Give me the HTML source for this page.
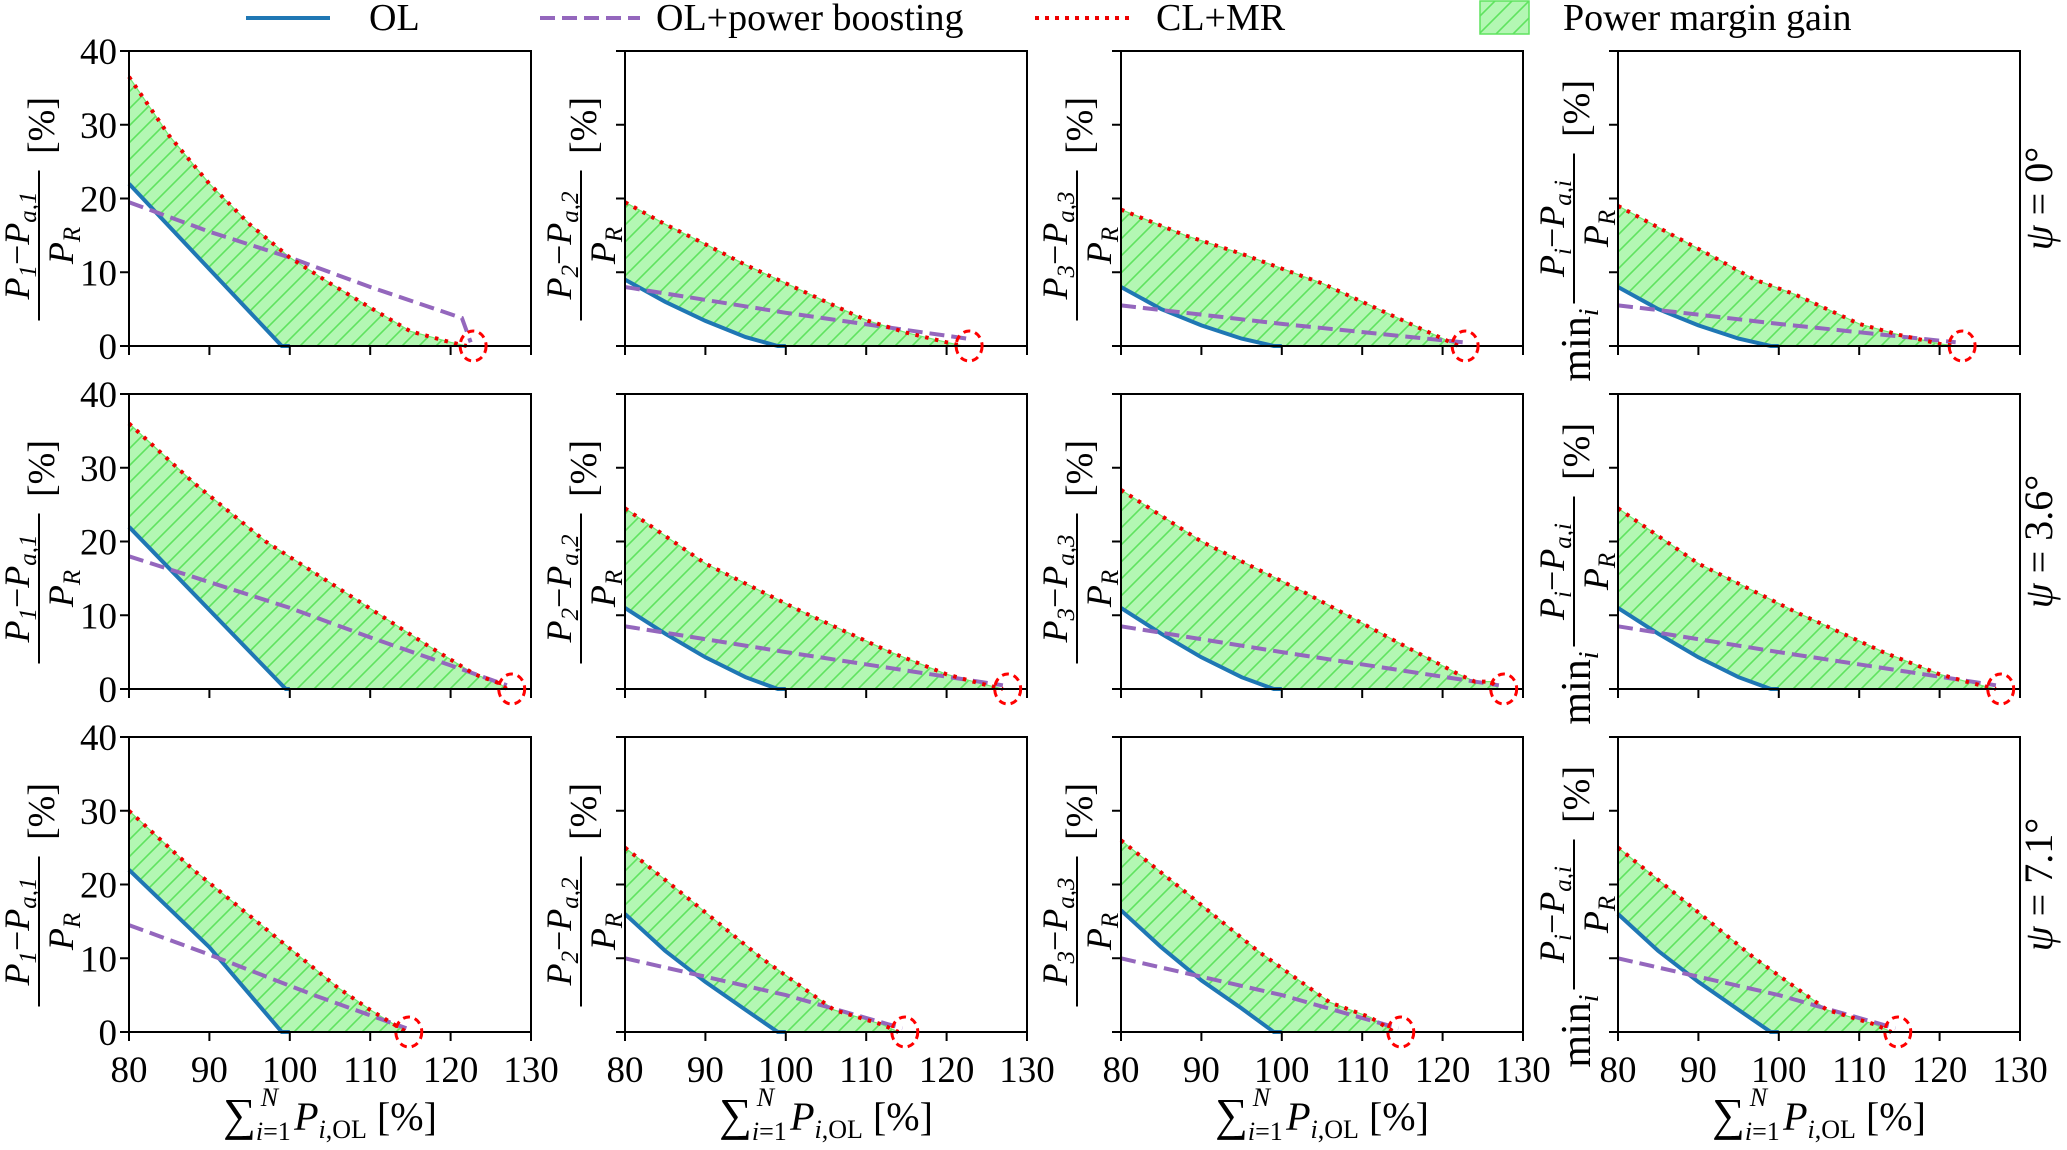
<!DOCTYPE html>
<html><head><meta charset="utf-8"><style>
html,body{margin:0;padding:0;background:#fff;}
svg{display:block;font-family:"Liberation Serif",serif;}
</style></head><body>
<svg id="chart" width="2067" height="1150" viewBox="0 0 2067 1150" xmlns="http://www.w3.org/2000/svg">
<defs>
<pattern id="hatch" patternUnits="userSpaceOnUse" width="17" height="17">
<rect width="17" height="17" fill="#b3f7b3"/>
<path d="M-4,4 L4,-4 M0,17 L17,0 M13,21 L21,13" stroke="#5fe35f" stroke-width="1.6"/>
</pattern>
</defs>
<g id="legend">
<g><line x1="246" y1="18" x2="330" y2="18" stroke="#1f77b4" stroke-width="4"/><text x="369" y="30" font-size="38">OL</text></g>
<g><line x1="540" y1="18" x2="640" y2="18" stroke="#9467bd" stroke-width="4" stroke-dasharray="15,7"/><text x="656" y="30" font-size="38">OL+power boosting</text></g>
<g><line x1="1035" y1="18" x2="1133" y2="18" stroke="#e00" stroke-width="4" stroke-dasharray="4,6"/><text x="1156" y="30" font-size="38">CL+MR</text></g>
<g><rect x="1480" y="1" width="49" height="33" fill="url(#hatch)" stroke="#5fe35f" stroke-width="1.5"/><text x="1563" y="30" font-size="38">Power margin gain</text></g>
</g>
<g id="plots"></g>
</svg>
<script>
// axis domains and ticks
const xTicks = [80, 90, 100, 110, 120, 130];
const yTicks = [0, 10, 20, 30, 40];
const rowAngles = ["0°", "3.6°", "7.1°"];
const circleX = [122.8, 127.6, 114.8];
const colLabels = ["1", "2", "3", "i"];

// Row 1 (psi = 0)
const ol_r1c1 = [[80,22],[99,0],[100,0]];
const pb_r1c1 = [[80,19.5],[90,15.5],[100,12],[110,8],[121.4,3.8],[122.5,0.5]];
const cl_r1c1 = [[80,36.5],[85,28.5],[90,22],[95,16.5],[100,12],[105,8.5],[110,5.2],[115,2],[120,0.5],[122,0]];
const ol_r1c2 = [[80,9],[85,6],[90,3.4],[95,1.2],[99,0],[100,0]];
const pb_r1c2 = [[80,8],[100,4.5],[122.5,1]];
const cl_r1c2 = [[80,19.5],[85,16.5],[90,13.8],[95,11],[100,8.5],[105,6],[110,3.5],[115,1.8],[120,0.5],[122,0]];
const ol_r1c3 = [[80,8],[85,5],[90,2.8],[95,1],[99,0],[100,0]];
const pb_r1c3 = [[80,5.5],[100,3],[122.5,0.5]];
const cl_r1c3 = [[80,18.5],[88,15],[95,12.5],[100,10.5],[105,8.5],[110,6],[115,3.5],[120,1],[122,0]];
const ol_r1c4 = [[80,8],[85,5],[90,2.8],[95,1],[99,0],[100,0]];
const pb_r1c4 = [[80,5.5],[100,3],[122,0.5]];
const cl_r1c4 = [[80,19],[86,15.5],[92,12],[97,9],[102,7],[106,5],[110,3],[115,1.5],[120,0.3],[122,0]];
// Row 2 (psi = 3.6)
const ol_r2c1 = [[80,22],[99.5,0],[100,0]];
const pb_r2c1 = [[80,18],[90,14.5],[100,11],[110,7],[120,3.2],[127,0.5]];
const cl_r2c1 = [[80,36],[88,28],[97,20],[107,13],[117,6],[123,2],[126,0.8],[127,0]];
const ol_r2c2 = [[80,11],[85,7.5],[90,4.3],[95,1.6],[99,0],[100,0]];
const pb_r2c2 = [[80,8.5],[100,5],[127,0.5]];
const cl_r2c2 = [[80,24.5],[90,17],[102,10.5],[113,5],[120,2],[124,0.8],[127,0]];
const ol_r2c3 = [[80,11],[85,7.5],[90,4.3],[95,1.6],[99,0],[100,0]];
const pb_r2c3 = [[80,8.5],[100,5],[127,0.5]];
const cl_r2c3 = [[80,27],[90,20],[103,13],[115,6],[122,2],[124,1],[126,1],[127,0]];
const ol_r2c4 = [[80,11],[85,7.5],[90,4.3],[95,1.6],[99,0],[100,0]];
const pb_r2c4 = [[80,8.5],[100,5],[127,0.5]];
const cl_r2c4 = [[80,24.5],[90,17],[102,10.5],[113,5],[120,2],[124,0.8],[127,0]];
// Row 3 (psi = 7.1)
const ol_r3c1 = [[80,22],[90,11.5],[99,0],[100,0]];
const pb_r3c1 = [[80,14.5],[90,10.5],[103,5],[114.5,0.5]];
const cl_r3c1 = [[80,30],[88,22],[97,14],[106,6],[110,3],[113,1],[114.5,0]];
const ol_r3c2 = [[80,16],[85,11],[90,6.8],[95,3],[99,0],[100,0]];
const pb_r3c2 = [[80,10],[100,5],[114.5,0.5]];
const cl_r3c2 = [[80,25],[88,18],[97,10],[106,3],[112,1],[114,0]];
const ol_r3c3 = [[80,16.5],[85,11.5],[90,7],[95,3.2],[99,0],[100,0]];
const pb_r3c3 = [[80,10],[100,5],[114.5,0.5]];
const cl_r3c3 = [[80,26],[88,19],[97,11],[106,4],[111,2],[114,0]];
const ol_r3c4 = [[80,16],[85,11],[90,6.8],[95,3],[99,0],[100,0]];
const pb_r3c4 = [[80,10],[100,5],[114.5,0.5]];
const cl_r3c4 = [[80,25],[88,18],[97,10],[106,3],[112,1],[114,0]];

const OL = [[ol_r1c1,ol_r1c2,ol_r1c3,ol_r1c4],[ol_r2c1,ol_r2c2,ol_r2c3,ol_r2c4],[ol_r3c1,ol_r3c2,ol_r3c3,ol_r3c4]];
const PB = [[pb_r1c1,pb_r1c2,pb_r1c3,pb_r1c4],[pb_r2c1,pb_r2c2,pb_r2c3,pb_r2c4],[pb_r3c1,pb_r3c2,pb_r3c3,pb_r3c4]];
const CL = [[cl_r1c1,cl_r1c2,cl_r1c3,cl_r1c4],[cl_r2c1,cl_r2c2,cl_r2c3,cl_r2c4],[cl_r3c1,cl_r3c2,cl_r3c3,cl_r3c4]];

const NS = "http://www.w3.org/2000/svg";
const colLeft = [129, 625, 1121, 1618];
const rowTop = [51, 394, 737];
const W = 402, H = 295;
const root = document.getElementById("plots");
function mk(tag, attrs, parent) {
  const e = document.createElementNS(NS, tag);
  for (const k in attrs) e.setAttribute(k, attrs[k]);
  (parent || root).appendChild(e);
  return e;
}
function pts(arr, sx, sy) { return arr.map(p => sx(p[0]).toFixed(1) + "," + sy(p[1]).toFixed(1)).join(" "); }

for (let r = 0; r < 3; r++) {
  for (let c = 0; c < 4; c++) {
    const L = colLeft[c], T = rowTop[r];
    const sx = v => L + (v - 80) / 50 * W;
    const sy = v => T + H - v / 40 * H;
    const g = mk("g", {});
    
    
    const ol = OL[r][c], pb = PB[r][c], cl = CL[r][c];
    const poly = cl.slice();
    poly.push([cl[cl.length - 1][0], 0]);
    ol.slice().reverse().forEach(p => poly.push(p));
    const fill = mk("polygon", {points: pts(poly, sx, sy), fill: "url(#hatch)", stroke: "#6fe86f", "stroke-width": 1.2}, g);
    
    
    const olL = mk("polyline", {points: pts(ol, sx, sy), fill: "none", stroke: "#1f77b4", "stroke-width": 4}, g);
    
    
    const pbL = mk("polyline", {points: pts(pb, sx, sy), fill: "none", stroke: "#9467bd", "stroke-width": 4, "stroke-dasharray": "15,7"}, g);
    
    
    const clL = mk("polyline", {points: pts(cl, sx, sy), fill: "none", stroke: "#e00", "stroke-width": 4, "stroke-dasharray": "3.5,6.5"}, g);
    
    
    const fr = mk("rect", {x: L, y: T, width: W, height: H, fill: "none", stroke: "#000", "stroke-width": 2}, g);
    
    
    const circ = mk("ellipse", {cx: sx(circleX[r]), cy: sy(0), rx: 13, ry: 15, fill: "none", stroke: "#f00", "stroke-width": 3, "stroke-dasharray": "7,5"}, g);
    
    
    xTicks.forEach(t => {
      mk("line", {x1: sx(t), x2: sx(t), y1: T + H, y2: T + H + 9, stroke: "#000", "stroke-width": 2}, g);
      if (r === 2) {
        const tl = mk("text", {x: sx(t), y: T + H + 50, "font-size": 37, "text-anchor": "middle"}, g);
        tl.textContent = t;
        
        
      }
    });
    yTicks.forEach(t => {
      mk("line", {x1: L - 9, x2: L, y1: sy(t), y2: sy(t), stroke: "#000", "stroke-width": 2}, g);
      if (c === 0) {
        const tl = mk("text", {x: L - 12, y: sy(t) + 13, "font-size": 37, "text-anchor": "end"}, g);
        tl.textContent = t;
        
        
      }
    });
    // y label
    const cx = c === 0 ? L - 88 : L - 42;
    const cy = T + H / 2;
    const yl = mk("g", {transform: "translate(" + cx + "," + cy + ") rotate(-90)", "font-size": 36}, g);
    
    
    const fc = c === 3 ? -30 : -47;
    const sub = colLabels[c];
    const num = mk("text", {x: fc, y: -12, "text-anchor": "middle", "font-style": "italic"}, yl);
    num.innerHTML = 'P<tspan font-size="25" dy="7">' + sub + '</tspan><tspan dy="-7" font-style="normal">−</tspan>P<tspan font-size="25" dy="7">a,' + sub + '</tspan>';
    mk("line", {x1: fc - 75, x2: fc + 75, y1: -2, y2: -2, stroke: "#000", "stroke-width": 2}, yl);
    const den = mk("text", {x: fc, y: 32, "text-anchor": "middle", "font-style": "italic"}, yl);
    den.innerHTML = 'P<tspan font-size="25" dy="7">R</tspan>';
    const br = mk("text", {x: fc + 120, y: 13, "text-anchor": "middle", "font-size": 38}, yl);
    br.textContent = "[%]";
    if (c === 3) {
      const mn = mk("text", {x: fc - 80, y: 14, "text-anchor": "end", "font-size": 42}, yl);
      mn.innerHTML = 'min<tspan font-size="28" dy="8" font-style="italic">i</tspan>';
    }
    if (r === 2) {
      const xl = mk("text", {x: L + W / 2, y: 1130, "font-size": 40, "text-anchor": "middle"}, g);
      xl.innerHTML = '<tspan font-size="46">∑</tspan><tspan font-size="26" dy="10" font-style="italic">i</tspan><tspan font-size="26">=1</tspan><tspan font-size="26" dx="-30" dy="-34" font-style="italic">N</tspan><tspan dy="24" dx="16" font-style="italic">P</tspan><tspan font-size="26" dy="8"><tspan font-style="italic">i</tspan>,OL</tspan><tspan dy="-8"> [%]</tspan>';
      
      
    }
    if (c === 3) {
      const pl = mk("text", {transform: "translate(" + 2052 + "," + cy + ") rotate(-90)", "font-size": 40, "text-anchor": "middle"}, g);
      pl.innerHTML = '<tspan font-style="italic">ψ</tspan> = ' + rowAngles[r];
      
      
    }
  }
}
</script>
</body></html>
